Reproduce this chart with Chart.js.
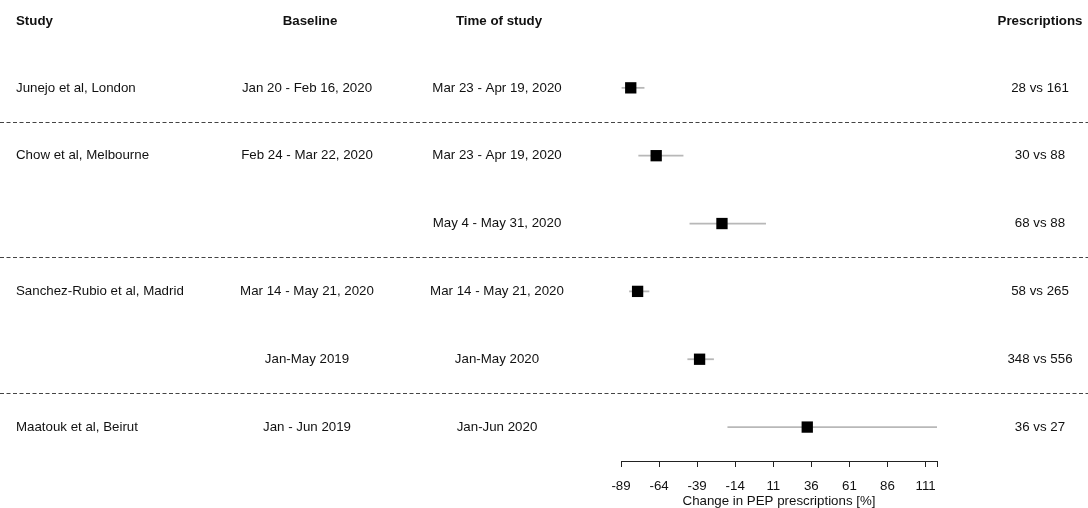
<!DOCTYPE html>
<html>
<head>
<meta charset="utf-8">
<script src="https://cdn.jsdelivr.net/npm/chart.js@4"></script>
<style>
  html, body { margin: 0; padding: 0; background: #fff; }
  #wrap { width: 1088px; height: 508px; position: relative; }
</style>
</head>
<body>
<div id="wrap"><canvas id="forest"></canvas></div>
<script>
'use strict';

// table columns, one entry per row (row 1 at top)
var headers = ['Study', 'Baseline', 'Time of study', 'Prescriptions'];
var studies = ['Junejo et al, London', 'Chow et al, Melbourne', '', 'Sanchez-Rubio et al, Madrid', '', 'Maatouk et al, Beirut'];
var baselines = ['Jan 20 - Feb 16, 2020', 'Feb 24 - Mar 22, 2020', '', 'Mar 14 - May 21, 2020', 'Jan-May 2019', 'Jan - Jun 2019'];
var studyTimes = ['Mar 23 - Apr 19, 2020', 'Mar 23 - Apr 19, 2020', 'May 4 - May 31, 2020', 'Mar 14 - May 21, 2020', 'Jan-May 2020', 'Jan-Jun 2020'];
var prescriptions = ['28 vs 161', '30 vs 88', '68 vs 88', '58 vs 265', '348 vs 556', '36 vs 27'];

// % change in PEP prescriptions with CI
var change = [-82.6, -65.9, -22.7, -78.1, -37.4, 33.3];
var lower = [-88.6, -77.6, -44.0, -83.7, -45.4, -19.1];
var upper = [-73.6, -48.0, 6.2, -70.4, -28.0, 118.5];

// x axis
var tickValues = [-89, -64, -39, -14, 11, 36, 61, 86, 111];
var axisMin = -89;
var axisMax = 118.5;

// dashed lines between study groups (in row units)
var groupBreaks = [1.5, 3.5, 5.5];

var FONT = '"Liberation Sans", Arial, Helvetica, sans-serif';
var FS = 13.3;
Chart.defaults.font.family = FONT;
Chart.defaults.font.size = FS;
Chart.defaults.color = '#111';

var rows = change.map(function (v, i) { return { x: v, y: i + 1 }; });

// grey confidence interval lines, drawn under the boxes
var ciLines = {
  id: 'ciLines',
  beforeDatasetsDraw: function (chart) {
    var ctx = chart.ctx;
    var xs = chart.scales.x, ys = chart.scales.y;
    ctx.save();
    ctx.strokeStyle = '#b8b8b8';
    ctx.lineWidth = 1.8;
    for (var i = 0; i < change.length; i++) {
      var y = ys.getPixelForValue(i + 1);
      ctx.beginPath();
      ctx.moveTo(xs.getPixelForValue(lower[i]), y);
      ctx.lineTo(xs.getPixelForValue(upper[i]), y);
      ctx.stroke();
    }
    ctx.restore();
  }
};

// text table + dashed separators
var forestTable = {
  id: 'forestTable',
  afterDraw: function (chart) {
    var ctx = chart.ctx;
    var ys = chart.scales.y;
    var W = chart.width;
    ctx.save();

    ctx.strokeStyle = '#444';
    ctx.lineWidth = 1;
    ctx.setLineDash([4, 2.5]);
    groupBreaks.forEach(function (b) {
      var y = Math.round(ys.getPixelForValue(b)) + 0.5;
      ctx.beginPath();
      ctx.moveTo(0, y);
      ctx.lineTo(W, y);
      ctx.stroke();
    });
    ctx.setLineDash([]);

    var cols = [
      { x: 16, hx: 16, align: 'left', vals: studies },
      { x: 307, hx: 310, align: 'center', vals: baselines },
      { x: 497, hx: 499, align: 'center', vals: studyTimes },
      { x: 1040, hx: 1040, align: 'center', vals: prescriptions }
    ];
    ctx.fillStyle = '#111';
    ctx.textBaseline = 'middle';
    cols.forEach(function (c, k) {
      ctx.textAlign = c.align;
      ctx.font = 'bold ' + FS + 'px ' + FONT;
      ctx.fillText(headers[k], c.hx, 21);
      ctx.font = FS + 'px ' + FONT;
      c.vals.forEach(function (t, i) {
        if (t) ctx.fillText(t, c.x, ys.getPixelForValue(i + 1));
      });
    });
    ctx.restore();
  }
};

new Chart(document.getElementById('forest'), {
  type: 'scatter',
  data: {
    datasets: [{
      data: rows,
      pointStyle: 'rect',
      pointRadius: 8,
      pointHoverRadius: 8,
      backgroundColor: '#000',
      borderColor: '#000',
      borderWidth: 0
    }]
  },
  options: {
    responsive: true,
    maintainAspectRatio: false,
    animation: false,
    events: [],
    layout: { padding: { left: 621, right: 151, top: 20, bottom: 0 } },
    plugins: { legend: { display: false }, tooltip: { enabled: false } },
    scales: {
      x: {
        type: 'linear',
        min: axisMin,
        max: axisMax,
        afterBuildTicks: function (scale) {
          scale.ticks = tickValues.concat([axisMax]).map(function (v) { return { value: v }; });
        },
        afterFit: function (scale) { scale.height = 47; },
        ticks: {
          autoSkip: false,
          maxRotation: 0,
          padding: 11,
          color: '#111',
          font: { size: FS },
          callback: function (v) { return tickValues.indexOf(v) >= 0 ? String(v) : ''; }
        },
        grid: { display: true, drawOnChartArea: false, drawTicks: true, tickLength: 6, color: '#222', lineWidth: 1 },
        border: { display: true, color: '#222', width: 1 },
        title: {
          display: true,
          text: 'Change in PEP prescriptions [%]',
          color: '#111',
          font: { size: FS, lineHeight: 1 },
          padding: { top: 0, bottom: 0 }
        }
      },
      y: {
        type: 'linear',
        display: false,
        reverse: true,
        min: 0,
        max: 6.5
      }
    }
  },
  plugins: [ciLines, forestTable]
});
</script>
</body>
</html>
